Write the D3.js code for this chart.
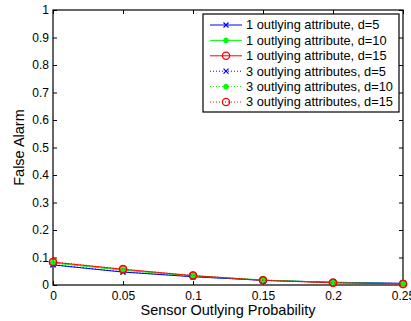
<!DOCTYPE html>
<html><head><meta charset="utf-8">
<script src="https://cdn.jsdelivr.net/npm/d3@7"></script>
<style>body{margin:0;background:#fff}svg{display:block}text{font-family:"Liberation Sans",Arial,sans-serif}</style>
</head><body><div id="chart"></div>
<script>
const xValues = [0, 0.05, 0.1, 0.15, 0.2, 0.25];
const s1d5  = [0.073, 0.047, 0.030, 0.017, 0.010, 0.006];
const s1d10 = [0.080, 0.054, 0.033, 0.018, 0.009, 0.005];
const s1d15 = [0.083, 0.057, 0.034, 0.017, 0.008, 0.004];
const s3d5  = [0.074, 0.048, 0.031, 0.017, 0.010, 0.006];
const s3d10 = [0.081, 0.055, 0.034, 0.018, 0.009, 0.005];
const s3d15 = [0.084, 0.058, 0.035, 0.017, 0.008, 0.004];
const seriesNames = ["1 outlying attribute, d=5","1 outlying attribute, d=10","1 outlying attribute, d=15","3 outlying attributes, d=5","3 outlying attributes, d=10","3 outlying attributes, d=15"];
const xTicks = [0, 0.05, 0.1, 0.15, 0.2, 0.25];
const yTicks = [0, 0.1, 0.2, 0.3, 0.4, 0.5, 0.6, 0.7, 0.8, 0.9, 1];
const xLabel = "Sensor Outlying Probability";
const yLabel = "False Alarm";

const series = [
  {name: seriesNames[0], values: s1d5,  color: "#0000ff", dash: null, marker: "x"},
  {name: seriesNames[1], values: s1d10, color: "#00ff00", dash: null, marker: "star"},
  {name: seriesNames[2], values: s1d15, color: "#ff0000", dash: null, marker: "o"},
  {name: seriesNames[3], values: s3d5,  color: "#0000ff", dash: "1,2", marker: "x"},
  {name: seriesNames[4], values: s3d10, color: "#00ff00", dash: "1,2", marker: "star"},
  {name: seriesNames[5], values: s3d15, color: "#ff0000", dash: "1,2", marker: "o"}
];

const W = 411, H = 321;
const L = 53, R = 403, T = 10, B = 285;
const svg = d3.select("#chart").append("svg").attr("width", W).attr("height", H);
const x = d3.scaleLinear().domain([0, 0.25]).range([L, R]);
const y = d3.scaleLinear().domain([0, 1]).range([B, T]);
const fmt = d => d3.format("~g")(d);

// axes with inward ticks
const tl = 4;
svg.append("g").attr("transform", `translate(0,${B})`)
  .call(d3.axisBottom(x).tickValues(xTicks).tickFormat(fmt).tickSizeInner(-tl).tickSizeOuter(0).tickPadding(6))
  .call(g => { g.select(".domain").remove(); g.selectAll("text").attr("font-size", 12).attr("fill","#000"); });
svg.append("g").attr("transform", `translate(0,${T})`)
  .call(d3.axisTop(x).tickValues(xTicks).tickFormat("").tickSizeInner(-tl).tickSizeOuter(0))
  .call(g => g.select(".domain").remove());
svg.append("g").attr("transform", `translate(${L},0)`)
  .call(d3.axisLeft(y).tickValues(yTicks).tickFormat(fmt).tickSizeInner(-tl).tickSizeOuter(0).tickPadding(4))
  .call(g => { g.select(".domain").remove(); g.selectAll("text").attr("font-size", 12).attr("fill","#000"); });
svg.append("g").attr("transform", `translate(${R},0)`)
  .call(d3.axisRight(y).tickValues(yTicks).tickFormat("").tickSizeInner(-tl).tickSizeOuter(0))
  .call(g => g.select(".domain").remove());
svg.append("rect").attr("x", L).attr("y", T).attr("width", R - L).attr("height", B - T)
  .attr("fill", "none").attr("stroke", "#000").attr("stroke-width", 1.2);

function drawMarker(g, type, cx, cy, color) {
  if (type === "x") {
    const s = 2.5;
    g.append("path").attr("d", `M${cx-s},${cy-s}L${cx+s},${cy+s}M${cx-s},${cy+s}L${cx+s},${cy-s}`)
      .attr("stroke", color).attr("stroke-width", 1.2).attr("fill", "none");
  } else if (type === "star") {
    const s = 2.8, d = 2;
    g.append("path").attr("d", `M${cx-s},${cy}L${cx+s},${cy}M${cx},${cy-s}L${cx},${cy+s}M${cx-d},${cy-d}L${cx+d},${cy+d}M${cx-d},${cy+d}L${cx+d},${cy-d}`)
      .attr("stroke", color).attr("stroke-width", 1.6).attr("fill", "none");
  } else {
    g.append("circle").attr("cx", cx).attr("cy", cy).attr("r", 3.6)
      .attr("stroke", color).attr("stroke-width", 1.3).attr("fill", "none");
  }
}

const line = d3.line().x((d, i) => x(xValues[i])).y(d => y(d));
const plot = svg.append("g");
series.forEach(s => {
  const g = plot.append("g");
  g.append("path").attr("d", line(s.values)).attr("fill", "none")
    .attr("stroke", s.color).attr("stroke-width", 1).attr("stroke-dasharray", s.dash);
  s.values.forEach((v, i) => drawMarker(g, s.marker, x(xValues[i]), y(v), s.color));
});

// legend
const lg = svg.append("g");
const lx = 203, ly = 14, lw = 196, lh = 98;
lg.append("rect").attr("x", lx).attr("y", ly).attr("width", lw).attr("height", lh)
  .attr("fill", "#fff").attr("stroke", "#000").attr("stroke-width", 1.2);
series.forEach((s, i) => {
  const yy = 25 + i * 15.4;
  lg.append("line").attr("x1", 210).attr("x2", 242).attr("y1", yy).attr("y2", yy)
    .attr("stroke", s.color).attr("stroke-width", 1).attr("stroke-dasharray", s.dash);
  drawMarker(lg, s.marker, 226, yy, s.color);
  lg.append("text").attr("x", 246).attr("y", yy).attr("dy", "0.35em")
    .attr("font-size", 12.8).attr("fill", "#000").text(s.name);
});

svg.append("text").attr("x", (L + R) / 2 + 0).attr("y", 315).attr("text-anchor", "middle")
  .attr("font-size", 14.5).attr("fill", "#000").text(xLabel);
svg.append("text").attr("transform", `translate(24,${(T + B) / 2}) rotate(-90)`)
  .attr("text-anchor", "middle").attr("font-size", 14.5).attr("fill", "#000").text(yLabel);
</script></body></html>
